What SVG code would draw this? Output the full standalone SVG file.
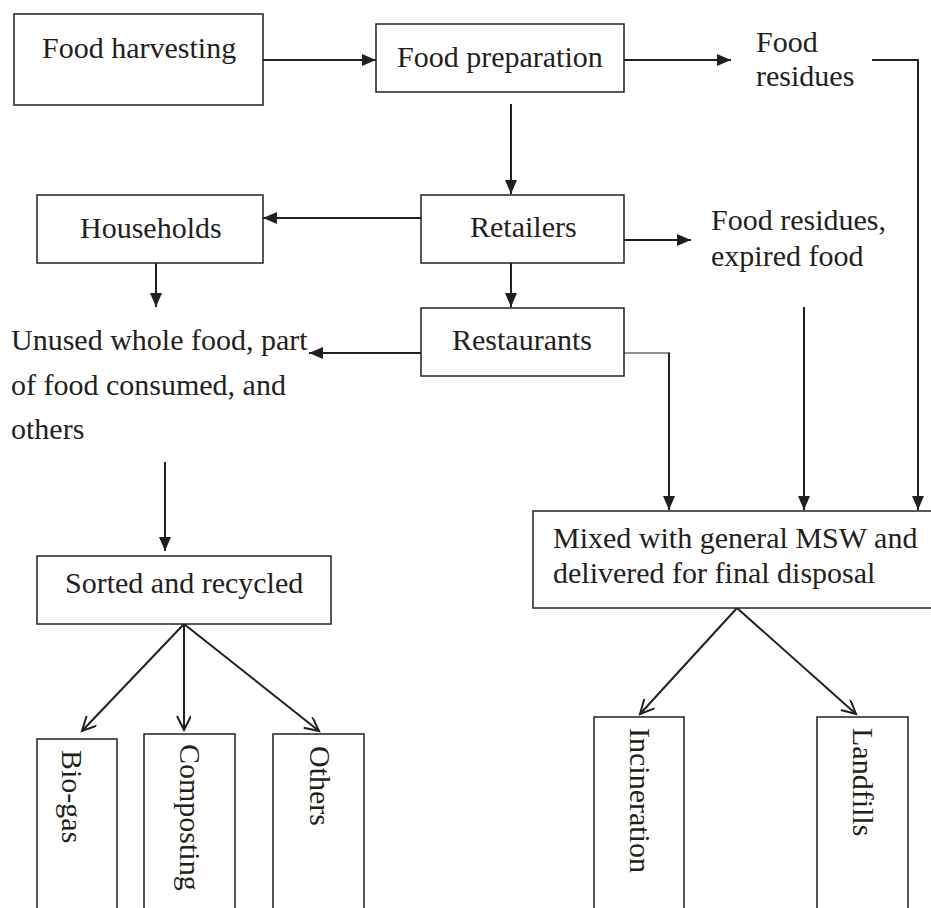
<svg xmlns="http://www.w3.org/2000/svg" width="931" height="908" viewBox="0 0 931 908">
<style>
  .box { fill: #fff; stroke: #231f20; stroke-width: 1.5; }
  .lbl { font-family: "Liberation Serif", "Times New Roman", serif; font-size: 30px; fill: #231f20; }
  .con { stroke: #231f20; stroke-width: 2; fill: none; }
  .thin { stroke: #231f20; stroke-width: 1; fill: none; }
</style>
<defs>
  <marker id="fa" markerUnits="userSpaceOnUse" markerWidth="16" markerHeight="14" refX="14" refY="6" orient="auto">
    <path d="M0,0 L14,6 L0,12 z" fill="#231f20"/>
  </marker>
  <marker id="oa" markerUnits="userSpaceOnUse" markerWidth="18" markerHeight="16" refX="15" refY="7" orient="auto">
    <path d="M1,0 L15,7 L1,14" fill="none" stroke="#231f20" stroke-width="2"/>
  </marker>
</defs>
<rect width="931" height="908" fill="#fff"/>

<g id="connectors">
  <line class="con" x1="263" y1="60" x2="376" y2="60" marker-end="url(#fa)"/>
  <line class="con" x1="624" y1="60" x2="731" y2="60" marker-end="url(#fa)"/>
  <polyline class="con" points="872,60 918,60 918,510" marker-end="url(#fa)"/>
  <line class="con" x1="511" y1="104" x2="511" y2="194" marker-end="url(#fa)"/>
  <line class="con" x1="421" y1="218" x2="263" y2="218" marker-end="url(#fa)"/>
  <line class="con" x1="156" y1="263" x2="156" y2="307" marker-end="url(#fa)"/>
  <line class="con" x1="624" y1="240" x2="691" y2="240" marker-end="url(#fa)"/>
  <line class="con" x1="511" y1="263" x2="511" y2="307" marker-end="url(#fa)"/>
  <line class="con" x1="421" y1="353" x2="309" y2="353" marker-end="url(#fa)"/>
  <line class="con" x1="804" y1="307" x2="804" y2="510" marker-end="url(#fa)"/>
  <line class="thin" x1="622" y1="353" x2="669" y2="353"/>
  <line class="con" x1="669" y1="352.5" x2="669" y2="510" marker-end="url(#fa)"/>
  <line class="con" x1="165" y1="462" x2="165" y2="551" marker-end="url(#fa)"/>
  <line class="con" x1="184" y1="624" x2="82" y2="731" marker-end="url(#oa)"/>
  <line class="con" x1="184" y1="624" x2="184" y2="730" marker-end="url(#oa)"/>
  <line class="con" x1="184" y1="624" x2="319" y2="731" marker-end="url(#oa)"/>
  <line class="con" x1="737" y1="608" x2="640" y2="714" marker-end="url(#oa)"/>
  <line class="con" x1="737" y1="608" x2="856" y2="714" marker-end="url(#oa)"/>
</g>

<g id="food-harvesting">
  <rect class="box" x="14" y="14" width="249" height="91"/>
  <text class="lbl" x="42" y="58">Food harvesting</text>
</g>
<g id="food-preparation">
  <rect class="box" x="376" y="24" width="248" height="68"/>
  <text class="lbl" x="397" y="67">Food preparation</text>
</g>
<g id="food-residues">
  <text class="lbl" x="756" y="52">Food</text>
  <text class="lbl" x="756" y="86">residues</text>
</g>
<g id="households">
  <rect class="box" x="37" y="195" width="226" height="68"/>
  <text class="lbl" x="80" y="238">Households</text>
</g>
<g id="retailers">
  <rect class="box" x="421" y="195" width="203" height="68"/>
  <text class="lbl" x="470" y="237">Retailers</text>
</g>
<g id="food-residues-expired">
  <text class="lbl" x="711" y="230">Food residues,</text>
  <text class="lbl" x="711" y="266">expired food</text>
</g>
<g id="restaurants">
  <rect class="box" x="421" y="308" width="203" height="68"/>
  <text class="lbl" x="452" y="350">Restaurants</text>
</g>
<g id="unused-food">
  <text class="lbl" x="11" y="350">Unused whole food, part</text>
  <text class="lbl" x="11" y="395">of food consumed, and</text>
  <text class="lbl" x="11" y="439">others</text>
</g>
<g id="sorted-recycled">
  <rect class="box" x="37" y="556" width="294" height="68"/>
  <text class="lbl" x="65" y="593">Sorted and recycled</text>
</g>
<g id="mixed-msw">
  <rect class="box" x="533" y="511" width="410" height="97"/>
  <text class="lbl" x="553" y="548">Mixed with general MSW and</text>
  <text class="lbl" x="553" y="583">delivered for final disposal</text>
</g>
<g id="bio-gas">
  <rect class="box" x="37" y="739" width="80" height="190"/>
  <text class="lbl" transform="translate(62,750) rotate(90)">Bio-gas</text>
</g>
<g id="composting">
  <rect class="box" x="144" y="734" width="91" height="190"/>
  <text class="lbl" transform="translate(180,744) rotate(90)">Composting</text>
</g>
<g id="others">
  <rect class="box" x="273" y="734" width="91" height="190"/>
  <text class="lbl" transform="translate(310,746) rotate(90)">Others</text>
</g>
<g id="incineration">
  <rect class="box" x="594" y="717" width="90" height="210"/>
  <text class="lbl" transform="translate(630,728) rotate(90)">Incineration</text>
</g>
<g id="landfills">
  <rect class="box" x="817" y="717" width="91" height="210"/>
  <text class="lbl" transform="translate(853,728) rotate(90)">Landfills</text>
</g>
</svg>
